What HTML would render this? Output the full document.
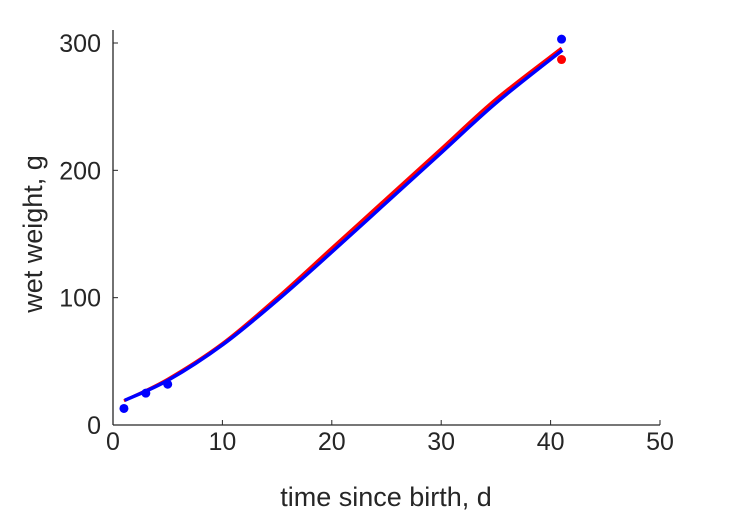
<!DOCTYPE html>
<html><head><meta charset="utf-8"><style>
body{margin:0;background:#fff;}
svg{font-family:"Liberation Sans",sans-serif;}
</style></head><body>
<svg id="chart" width="729" height="521">
<g id="axes"></g>
<g id="marks"></g>
<text x="386" y="506" font-size="27" text-anchor="middle" fill="#262626">time since birth, d</text>
<text transform="translate(42,234) rotate(-90)" font-size="27" text-anchor="middle" fill="#262626">wet weight, g</text>
</svg>
<script>
const xTicks=[0,10,20,30,40,50];
const yTicks=[0,100,200,300];
const obsT=[1,3,5,41];
const obsW=[13,25,32,303];
const obsRedT=[41];
const obsRedW=[287];
const fitT=[1,5,10,15,20,25,30,35,41];
const fitBlue=[20,36,64,99,137,176,215,254,295];
const fitRed=[19,36,64,100,139,178,217,256,296];
const X=v=>113+v*(660-113)/50;
const Y=v=>425-v*(425-43)/300;
const NS="http://www.w3.org/2000/svg";
const ax=document.getElementById('axes'), mk=document.getElementById('marks');
function mkEl(t,a,p){const e=document.createElementNS(NS,t);for(const k in a)e.setAttribute(k,a[k]);p.appendChild(e);return e;}
let l=mkEl('line',{x1:113,y1:425,x2:660,y2:425,stroke:'#262626','stroke-width':1.3},ax);


l=mkEl('line',{x1:113,y1:425,x2:113,y2:30,stroke:'#262626','stroke-width':1.3},ax);


xTicks.forEach(v=>{
 const t=mkEl('line',{x1:X(v),y1:425,x2:X(v),y2:420,stroke:'#262626'},ax);
 
 
 const s=mkEl('text',{x:X(v),y:450,'font-size':25,'text-anchor':'middle',fill:'#262626'},ax);
 s.textContent=v;
 
 
});
yTicks.forEach(v=>{
 const t=mkEl('line',{x1:113,y1:Y(v),x2:118,y2:Y(v),stroke:'#262626'},ax);
 
 
 const s=mkEl('text',{x:101,y:Y(v)+9,'font-size':25,'text-anchor':'end',fill:'#262626'},ax);
 s.textContent=v;
 
 
});
function path(ts,ws){
 const P=ts.map((t,i)=>[X(t),Y(ws[i])]);
 let d='M'+P[0][0]+','+P[0][1];
 for(let i=0;i<P.length-1;i++){
  const p0=P[Math.max(0,i-1)],p1=P[i],p2=P[i+1],p3=P[Math.min(P.length-1,i+2)];
  const c1=[p1[0]+(p2[0]-p0[0])/6,p1[1]+(p2[1]-p0[1])/6];
  const c2=[p2[0]-(p3[0]-p1[0])/6,p2[1]-(p3[1]-p1[1])/6];
  d+=' C'+c1+' '+c2+' '+p2;
 }
 return d;
}
let p=mkEl('path',{d:path(fitT,fitRed),fill:'none',stroke:'#ff0000','stroke-width':3},mk);


p=mkEl('path',{d:path(fitT,fitBlue),fill:'none',stroke:'#0000ff','stroke-width':3.5,transform:'translate(0.8,0.8)'},mk);


obsT.forEach((t,i)=>{
 const c=mkEl('circle',{cx:X(t),cy:Y(obsW[i]),r:4.5,fill:'#0000ff'},mk);
 
 
});
obsRedT.forEach((t,i)=>{
 const c=mkEl('circle',{cx:X(t),cy:Y(obsRedW[i]),r:4.5,fill:'#ff0000'},mk);
 
 
});
</script>
</body></html>
